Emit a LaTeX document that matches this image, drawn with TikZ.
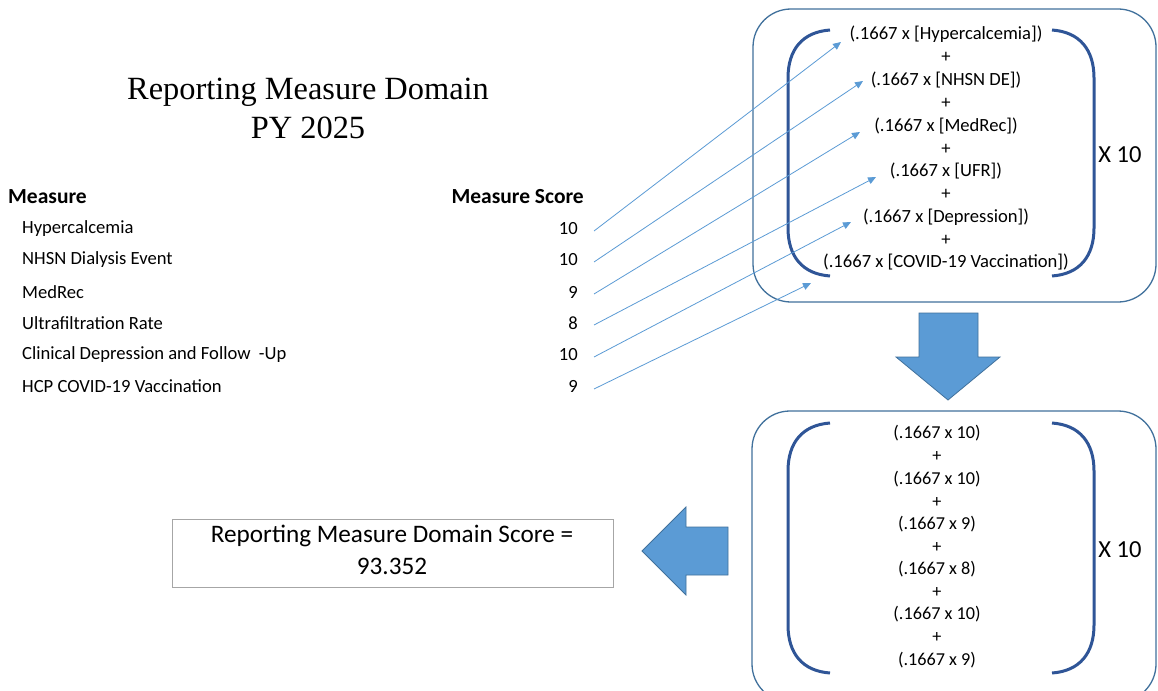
\documentclass[tikz,border=0pt]{standalone}
\usepackage{fontspec}
\setmainfont{Carlito}
\newfontfamily\titlefont{Liberation Serif}
\usetikzlibrary{arrows.meta}
\definecolor{lineblue}{HTML}{5B9BD5}
\definecolor{boxblue}{HTML}{41719C}
\definecolor{brblue}{HTML}{2F5597}
\definecolor{fillblue}{HTML}{5B9BD5}
\tikzset{
  rowname/.style={anchor=west, inner sep=0pt, font=\fontsize{18.6}{20}\selectfont},
  rowscore/.style={anchor=east, inner sep=0pt, font=\fontsize{18.6}{20}\selectfont},
  head/.style={inner sep=0pt, font=\fontsize{21.5}{23}\selectfont\bfseries},
  ftxt/.style={inner sep=0pt, font=\fontsize{18.6}{20}\selectfont},
  gtxt/.style={inner sep=0pt, font=\fontsize{18.2}{20}\selectfont},
  times/.style={inner sep=0pt, font=\fontsize{24.5}{26}\selectfont},
  conn/.style={lineblue, line width=0.8pt, -{Triangle[length=8pt,width=7pt]}},
  outerbox/.style={boxblue, line width=1.3pt, rounded corners=38pt},
  bracket/.style={brblue, line width=3pt},
  blockarrow/.style={fill=fillblue, draw=boxblue, line width=0.8pt},
}
\begin{document}
\begin{tikzpicture}[x=1pt, y=-1pt]
\useasboundingbox (0,0) rectangle (1158,690);
\clip (0,0) rectangle (1158,690);
\fill[white] (0,0) rectangle (1158,690);

% title
\node[inner sep=0pt, font=\fontsize{32.4}{36}\selectfont\titlefont] (t1) at (308,92) {Reporting Measure Domain};
\node[inner sep=0pt, font=\fontsize{32.4}{36}\selectfont\titlefont] (t2) at (308,128) {PY 2025};

% table
\node[head, anchor=west] (hm) at (8,197) {Measure};
\node[head, anchor=east] (hs) at (584,197) {Measure Score};
\node[rowname] (n1) at (22,229) {Hypercalcemia};
\node[rowname] (n2) at (22,260) {NHSN Dialysis Event};
\node[rowname] (n3) at (22,292) {MedRec};
\node[rowname] (n4) at (22,323) {Ultrafiltration Rate};
\node[rowname] (n5) at (22,355) {Clinical Depression and Follow \ -Up};
\node[rowname] (n6) at (22,386) {HCP COVID-19 Vaccination};
\node[rowscore] (s1) at (578,229) {10};
\node[rowscore] (s2) at (578,260) {10};
\node[rowscore] (s3) at (578,292) {9};
\node[rowscore] (s4) at (578,323) {8};
\node[rowscore] (s5) at (578,355) {10};
\node[rowscore] (s6) at (578,386) {9};

% top box
\draw[outerbox] (753,9) rectangle (1156,302);
\draw[bracket] (830,30) .. controls (802,32) and (788,50) .. (788,78) -- (788,228) .. controls (788,256) and (802,274) .. (830,276);
\draw[bracket] (1052,30) .. controls (1080,32) and (1094,50) .. (1094,78) -- (1094,228) .. controls (1094,256) and (1080,274) .. (1052,276);
\node[ftxt] (f1) at (946,34) {(.1667 x [Hypercalcemia])};
\node[ftxt] (p1) at (946,57) {+};
\node[ftxt] (f2) at (946,80) {(.1667 x [NHSN DE])};
\node[ftxt] (p2) at (946,103) {+};
\node[ftxt] (f3) at (946,126) {(.1667 x [MedRec])};
\node[ftxt] (p3) at (946,149) {+};
\node[ftxt] (f4) at (946,171) {(.1667 x [UFR])};
\node[ftxt] (p4) at (946,194) {+};
\node[ftxt] (f5) at (946,217) {(.1667 x [Depression])};
\node[ftxt] (p5) at (946,240) {+};
\node[ftxt] (f6) at (946,262) {(.1667 x [COVID-19 Vaccination])};
\node[times] (x1) at (1120,155) {X 10};

% connectors
\coordinate (a1) at (594,231);
\coordinate (a2) at (594,262);
\coordinate (a3) at (594,294);
\coordinate (a4) at (594,325);
\coordinate (a5) at (594,357);
\coordinate (a6) at (594,389);
\coordinate (b1) at (841,42);
\coordinate (b2) at (863,81);
\coordinate (b3) at (860,132);
\coordinate (b4) at (876,177);
\coordinate (b5) at (851,222);
\coordinate (b6) at (811,283);
\draw[conn] (a1) -- (b1);
\draw[conn] (a2) -- (b2);
\draw[conn] (a3) -- (b3);
\draw[conn] (a4) -- (b4);
\draw[conn] (a5) -- (b5);
\draw[conn] (a6) -- (b6);

% down block arrow
\draw[blockarrow] (919,313) -- (978,313) -- (978,357) -- (1000,357) -- (948,400) -- (896,357) -- (919,357) -- cycle;

% bottom box
\draw[outerbox] (752,411) rectangle (1156,702);
\draw[bracket] (830,423) .. controls (802,425) and (788,443) .. (788,471) -- (788,625) .. controls (788,653) and (802,671) .. (830,673);
\draw[bracket] (1052,423) .. controls (1080,425) and (1094,443) .. (1094,471) -- (1094,625) .. controls (1094,653) and (1080,671) .. (1052,673);
\node[gtxt] (g1) at (937,433) {(.1667 x 10)};
\node[gtxt] (q1) at (937,456) {+};
\node[gtxt] (g2) at (937,479) {(.1667 x 10)};
\node[gtxt] (q2) at (937,502) {+};
\node[gtxt] (g3) at (937,524) {(.1667 x 9)};
\node[gtxt] (q3) at (937,547) {+};
\node[gtxt] (g4) at (937,569) {(.1667 x 8)};
\node[gtxt] (q4) at (937,592) {+};
\node[gtxt] (g5) at (937,614) {(.1667 x 10)};
\node[gtxt] (q5) at (937,637) {+};
\node[gtxt] (g6) at (937,660) {(.1667 x 9)};
\node[times] (x2) at (1120,550) {X 10};

% left block arrow
\draw[blockarrow] (728,527) -- (728,575) -- (686,575) -- (686,595) -- (642,551) -- (686,507) -- (686,527) -- cycle;

% result box
\draw[gray!70, line width=1pt] (172,519) rectangle (613,587);
\node[inner sep=0pt, font=\fontsize{25.2}{27}\selectfont] (r1) at (392,536) {Reporting Measure Domain Score =};
\node[inner sep=0pt, font=\fontsize{25.2}{27}\selectfont] (r2) at (392,566) {93.352};
\end{tikzpicture}
\end{document}
